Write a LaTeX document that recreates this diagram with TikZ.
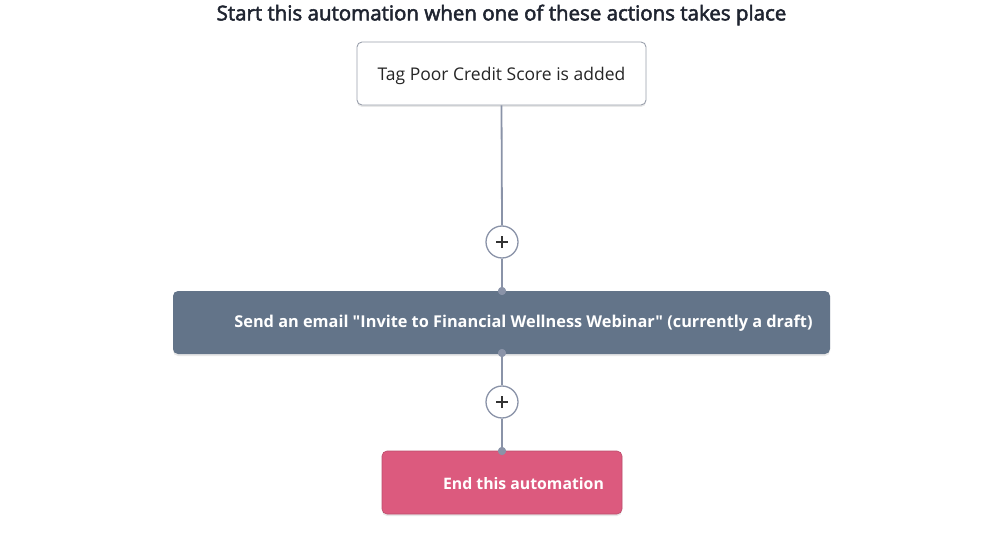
\documentclass[tikz,border=0pt]{standalone}
\usepackage{fontspec}
\setmainfont{Open Sans}[Ligatures=TeXOff]
\usetikzlibrary{shadows}
\definecolor{linegray}{HTML}{8A93A8}
\definecolor{boxgray}{HTML}{9AA0AC}
\definecolor{slate}{HTML}{637489}
\definecolor{pink}{HTML}{DC5A7E}
\definecolor{titleink}{HTML}{1F2430}
\tikzset{
  flowbox/.style={rectangle, rounded corners=5pt, minimum height=63pt, inner sep=0pt,
    drop shadow={opacity=0.18, shadow xshift=0pt, shadow yshift=-2pt}},
  plusbtn/.style={circle, draw=linegray, line width=1.3pt, fill=white, minimum size=32pt, inner sep=0pt},
  joint/.style={circle, fill=linegray, minimum size=8pt, inner sep=0pt},
  wire/.style={draw=linegray, line width=1.8pt}
}
\begin{document}
\begin{tikzpicture}[x=1pt,y=-1pt]
\useasboundingbox (0,0) rectangle (1000,545);
\node[text=titleink, font=\fontsize{20.5}{24}\selectfont\addfontfeature{FakeBold=2.5}] (title) at (501.5,15) {Start this automation when one of these actions takes place};
% trigger
\node[flowbox, draw=boxgray, line width=0.9pt, fill=white, minimum width=289pt] (trigger) at (501.5,73.5) {};
\node[text=black!85, font=\fontsize{17.5}{20}\selectfont] (triggertext) at (501.5,75.5) {Tag Poor Credit Score is added};
% email
\node[flowbox, fill=slate, minimum width=657pt] (email) at (501.5,322.5) {};
\node[text=white, font=\fontsize{16.3}{19}\selectfont\bfseries] (emailtext) at (523.5,323.5) {Send an email "Invite to Financial Wellness Webinar" (currently a draft)};
% end
\node[flowbox, fill=pink, draw=pink!85!black, line width=0.6pt, minimum width=240pt] (finish) at (502,482.5) {};
\node[text=white, font=\fontsize{15.8}{19}\selectfont\bfseries] (finishtext) at (523.5,483.5) {End this automation};
% connectors
\node[plusbtn] (addA) at (502,242) {};
\node[plusbtn] (addB) at (502,402) {};
\node[joint] (jA) at (502,291) {};
\node[joint] (jB) at (502,353) {};
\node[joint] (jC) at (502,451) {};
\draw[wire] (trigger.south) -- (addA.north);
\draw[wire] (addA.south) -- (jA.center);
\draw[wire] (jB.center) -- (addB.north);
\draw[wire] (addB.south) -- (jC.center);
\node[joint] at (502,291) {};
\node[joint] at (502,353) {};
\node[joint] at (502,451) {};
\foreach \b in {addA,addB}{
  \draw[black!80, line width=1.3pt] ([xshift=-6pt]\b.center) -- ([xshift=6pt]\b.center);
  \draw[black!80, line width=1.3pt] ([yshift=-6pt]\b.center) -- ([yshift=6pt]\b.center);
}
\end{tikzpicture}
\end{document}
